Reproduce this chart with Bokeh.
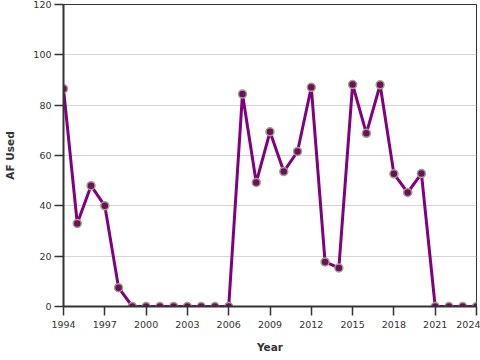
from bokeh.plotting import figure
from bokeh.models import Range1d, FixedTicker, ColumnDataSource
from bokeh.embed import file_html
from bokeh.resources import INLINE

years = list(range(1994, 2025))
af_used = [86.5, 33, 48, 40, 7.5, 0, 0, 0, 0, 0, 0, 0, 0,
           84.4, 49.3, 69.4, 53.6, 61.6, 87.1, 17.7, 15.3,
           88.2, 68.8, 88.1, 52.7, 45.3, 52.8, 0, 0, 0, 0]
x_ticks = [1994, 1997, 2000, 2003, 2006, 2009, 2012, 2015, 2018, 2021, 2024]
y_ticks = [0, 20, 40, 60, 80, 100, 120]

src = ColumnDataSource(dict(year=years, af=af_used))

p = figure(width=480, height=360, output_backend="svg", toolbar_location=None,
           x_range=Range1d(1994, 2024), y_range=Range1d(0, 120),
           min_border_left=63, min_border_right=4, min_border_top=4, min_border_bottom=54,
           background_fill_color="white", border_fill_color="white")

p.outline_line_color = "#333333"
p.outline_line_width = 1

p.xgrid.visible = False
p.ygrid.grid_line_color = "#d6d6d6"
p.ygrid.grid_line_width = 1

p.xaxis.ticker = FixedTicker(ticks=x_ticks)
p.yaxis.ticker = FixedTicker(ticks=y_ticks)
for ax in (p.xaxis[0], p.yaxis[0]):
    ax.axis_line_color = "#333333"
    ax.axis_line_width = 2
    ax.major_tick_line_color = "#333333"
    ax.major_tick_line_width = 1.5
    ax.major_tick_in = 0
    ax.major_tick_out = 9
    ax.minor_tick_line_color = None
    ax.major_label_text_font = "DejaVu Sans"
    ax.major_label_text_font_size = "9.5px"
    ax.major_label_text_color = "#333333"
    ax.axis_label_text_font = "DejaVu Sans"
    ax.axis_label_text_font_style = "bold"
    ax.axis_label_text_font_size = "10.5px"
    ax.axis_label_text_color = "#333333"

p.xaxis.axis_label = "Year"
p.yaxis.axis_label = "AF Used"
p.xaxis.major_label_standoff = 5
p.xaxis.axis_label_standoff = 10
p.yaxis.major_label_standoff = 3
p.yaxis.axis_label_standoff = 14

p.line("year", "af", source=src, line_color="#800080", line_width=3)
p.scatter("year", "af", source=src, size=8, fill_color="#6a1060",
          line_color="#aa9e82", line_width=1.5)

open("out.html", "w").write(file_html(p, INLINE))
